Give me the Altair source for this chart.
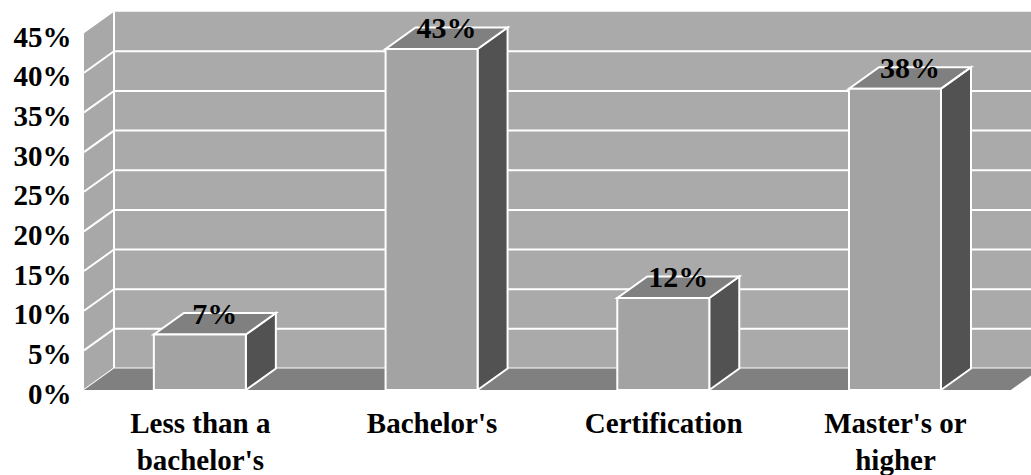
import json
import altair as alt
import pandas as pd

# ---- data ----
categories = ["Less than a\nbachelor's", "Bachelor's", "Certification", "Master's or\nhigher"]
values = [7.0, 43.0, 11.6, 38.0]          # percent
y_ticks = [0, 5, 10, 15, 20, 25, 30, 35, 40, 45]

# ---- 3-D geometry (in data units) ----
DX = 0.1295      # depth offset along x (category units)
DY = 2.71        # depth offset along y (percent units)
HALF_W = 0.1985  # half bar width (category units)
X_MAX = 4.087
Y_MAX = 47.79
WALL_TOP = 45

FONT = "Times New Roman, Liberation Serif, serif"

x_scale = alt.Scale(domain=[0, X_MAX], nice=False, zero=False)
y_scale = alt.Scale(domain=[0, Y_MAX], nice=False, zero=False)

label_lists = [c.split("\n") for c in categories]
x_axis = alt.Axis(
    values=[i + 0.5 for i in range(len(categories))],
    labelExpr=f"{json.dumps(label_lists)}[floor(datum.value)]",
    title=None, grid=False, domain=False, ticks=False, tickSize=0,
    labelFont=FONT, labelFontSize=29, labelFontWeight="bold", labelColor="black",
    labelPadding=19, labelLineHeight=37, labelFlush=False, labelOverlap=False,
    labelBaseline="top",
)
y_axis = alt.Axis(
    values=y_ticks,
    labelExpr="datum.value + '%'",
    title=None, grid=False, domain=False, ticks=False, tickSize=0,
    labelFont=FONT, labelFontSize=29, labelFontWeight="bold", labelColor="black",
    labelPadding=13, labelOffset=4, labelFlush=False, labelOverlap=False,
)


def X(f):
    return alt.X(f, type="quantitative", scale=x_scale, axis=x_axis)


def Y(f, stack=False):
    if stack:
        return alt.Y(f, type="quantitative", scale=y_scale, axis=y_axis, stack=None)
    return alt.Y(f, type="quantitative", scale=y_scale, axis=y_axis)


n = len(categories)

# back wall
back_df = pd.DataFrame({"x": [DX], "x2": [n + DX], "y": [DY], "y2": [WALL_TOP + DY]})
back = alt.Chart(back_df).mark_rect(fill="#AAAAAA", clip=True).encode(
    x=X("x"), x2="x2", y=Y("y"), y2="y2")

# left wall (parallelogram)
left_df = pd.DataFrame({"x": [0, DX], "lo": [0, DY], "hi": [WALL_TOP, WALL_TOP + DY]})
left = alt.Chart(left_df).mark_area(fill="#A8A8A8", orient="vertical").encode(
    x=X("x"), y=Y("lo", True), y2="hi")

# floor (parallelogram)
floor_df = pd.DataFrame({"x": [0, DX, n, n + DX],
                         "lo": [0, 0, 0, DY],
                         "hi": [0, DY, DY, DY]})
floor = alt.Chart(floor_df).mark_area(fill="#808080", orient="vertical", clip=True).encode(
    x=X("x"), y=Y("lo", True), y2="hi")

# gridlines on back wall
gb_df = pd.DataFrame({"x": [DX] * 9, "x2": [n + DX] * 9,
                      "y": [t + DY for t in y_ticks[:-1]]})
grid_back = alt.Chart(gb_df).mark_rule(color="white", strokeWidth=2, clip=True).encode(
    x=X("x"), x2="x2", y=Y("y"))

# gridlines on left wall
gl_df = pd.DataFrame({"x": [0] * 9, "x2": [DX] * 9,
                      "y": y_ticks[:-1], "y2": [t + DY for t in y_ticks[:-1]]})
grid_left = alt.Chart(gl_df).mark_rule(color="white", strokeWidth=2).encode(
    x=X("x"), x2="x2", y=Y("y"), y2="y2")

# corner line between left wall and back wall
corner_df = pd.DataFrame({"x": [DX], "y": [DY], "y2": [WALL_TOP + DY]})
corner = alt.Chart(corner_df).mark_rule(color="white", strokeWidth=2).encode(
    x=X("x"), y=Y("y"), y2="y2")

# bars
front_rows, side_rows, top_rows, label_rows = [], [], [], []
for i, v in enumerate(values):
    c = i + 0.5
    l, r = c - HALF_W, c + HALF_W
    front_rows.append({"bar": i, "x": l, "x2": r, "y": 0, "y2": v})
    side_rows += [{"bar": i, "x": r, "lo": 0, "hi": v},
                  {"bar": i, "x": r + DX, "lo": DY, "hi": v + DY}]
    top_rows += [{"bar": i, "x": l, "lo": v, "hi": v},
                 {"bar": i, "x": l + DX, "lo": v, "hi": v + DY},
                 {"bar": i, "x": r, "lo": v, "hi": v + DY},
                 {"bar": i, "x": r + DX, "lo": v + DY, "hi": v + DY}]
    label_rows.append({"x": c + DX / 2, "y": v + DY / 2, "pct": v / 100})

side = alt.Chart(pd.DataFrame(side_rows)).mark_area(
    fill="#525252", stroke="white", strokeWidth=2, orient="vertical").encode(
    x=X("x"), y=Y("lo", True), y2="hi", detail="bar:N")
top = alt.Chart(pd.DataFrame(top_rows)).mark_area(
    fill="#808080", stroke="white", strokeWidth=2, orient="vertical").encode(
    x=X("x"), y=Y("lo", True), y2="hi", detail="bar:N")
front = alt.Chart(pd.DataFrame(front_rows)).mark_rect(
    fill="#A3A3A3", stroke="white", strokeWidth=2).encode(
    x=X("x"), x2="x2", y=Y("y"), y2="y2")

labels = alt.Chart(pd.DataFrame(label_rows)).mark_text(
    font=FONT, fontSize=30, fontWeight="bold", color="black",
    align="center", baseline="alphabetic").encode(
    x=X("x"), y=Y("y"), text=alt.Text("pct:Q", format=".0%"))

chart = alt.layer(
    back, left, grid_back, grid_left, corner, floor, side, top, front, labels
).properties(
    width=947, height=379,
    autosize=alt.AutoSizeParams(type="none"),
    padding={"left": 84, "top": 11, "right": 0, "bottom": 85},
    background="white",
).configure_view(stroke=None)

chart.save("out.html", embed_options={"renderer": "svg", "actions": False})
